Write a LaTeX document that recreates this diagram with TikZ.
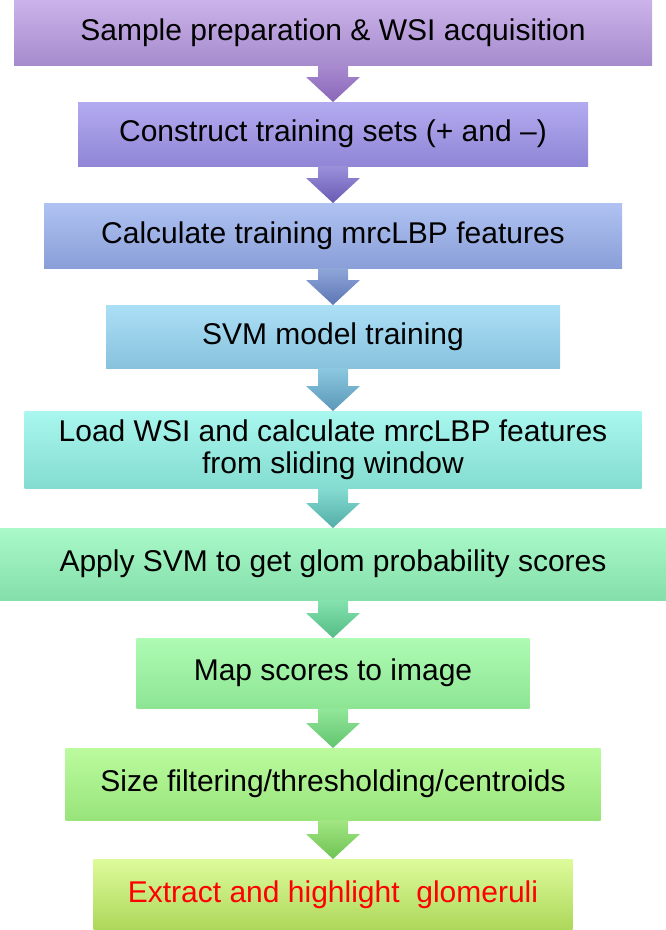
\documentclass[tikz,border=0pt]{standalone}
\usepackage{fontspec}
\setmainfont{Liberation Sans}
\usetikzlibrary{calc}

% box shades, top and bottom
\definecolor{stAt}{HTML}{CBB3EA}\definecolor{stAb}{HTML}{A68BCD}
\definecolor{stBt}{HTML}{B3ABF0}\definecolor{stBb}{HTML}{8F86D6}
\definecolor{stCt}{HTML}{AFC2F2}\definecolor{stCb}{HTML}{8A9FD8}
\definecolor{stDt}{HTML}{ABDFF6}\definecolor{stDb}{HTML}{88C2DD}
\definecolor{stEt}{HTML}{A9F7EF}\definecolor{stEb}{HTML}{84DCD0}
\definecolor{stFt}{HTML}{AAF9C9}\definecolor{stFb}{HTML}{84DFAA}
\definecolor{stGt}{HTML}{AEFBB4}\definecolor{stGb}{HTML}{8DE593}
\definecolor{stHt}{HTML}{BBFB9E}\definecolor{stHb}{HTML}{98E47B}
\definecolor{stIt}{HTML}{DDFB9B}\definecolor{stIb}{HTML}{ADD75A}
% arrow shades
\definecolor{arAt}{HTML}{A88BD0}\definecolor{arAb}{HTML}{8A66B8}
\definecolor{arBt}{HTML}{9A90DA}\definecolor{arBb}{HTML}{6A5AB4}
\definecolor{arCt}{HTML}{8FA6D8}\definecolor{arCb}{HTML}{5C76B6}
\definecolor{arDt}{HTML}{8CC8E0}\definecolor{arDb}{HTML}{5B98B8}
\definecolor{arEt}{HTML}{84DCD2}\definecolor{arEb}{HTML}{54ADA6}
\definecolor{arFt}{HTML}{84E2AE}\definecolor{arFb}{HTML}{55BC86}
\definecolor{arGt}{HTML}{92E79A}\definecolor{arGb}{HTML}{62C46E}
\definecolor{arHt}{HTML}{A2E684}\definecolor{arHb}{HTML}{6EC352}

\begin{document}
\begin{tikzpicture}[x=1pt,y=-1pt,
    stage/.style={rectangle, inner sep=0pt, outer sep=0pt,
      font=\fontsize{30}{32}\selectfont, align=center}]
  \useasboundingbox (0,0) rectangle (666,930);

  \node[stage, minimum width=638pt, minimum height=65pt, top color=stAt, bottom color=stAb] (s1) at (333,32.5) {Sample preparation \& WSI acquisition};
  \node[stage, minimum width=510pt, minimum height=64pt, top color=stBt, bottom color=stBb] (s2) at (333,134) {Construct training sets (+ and --)};
  \node[stage, minimum width=578pt, minimum height=65pt, top color=stCt, bottom color=stCb] (s3) at (333,235.5) {Calculate training mrcLBP features};
  \node[stage, minimum width=454pt, minimum height=63pt, top color=stDt, bottom color=stDb] (s4) at (333,336.5) {SVM model training};
  \node[stage, minimum width=617pt, minimum height=77pt, top color=stEt, bottom color=stEb] (s5) at (333,449.5) {Load WSI and calculate mrcLBP features\\from sliding window};
  \node[stage, minimum width=666pt, minimum height=72pt, top color=stFt, bottom color=stFb] (s6) at (333,564) {Apply SVM to get glom probability scores};
  \node[stage, minimum width=393pt, minimum height=70pt, top color=stGt, bottom color=stGb] (s7) at (333,673) {Map scores to image};
  \node[stage, minimum width=535pt, minimum height=72pt, top color=stHt, bottom color=stHb] (s8) at (333,784) {Size filtering/thresholding/centroids};
  \node[stage, minimum width=479pt, minimum height=71pt, top color=stIt, bottom color=stIb, text=red] (s9) at (333,894.5) {Extract and highlight\ \ glomeruli};

  % block arrows between the stages
  \foreach \a/\b/\c in {s1/s2/A, s2/s3/B, s3/s4/C, s4/s5/D, s5/s6/E, s6/s7/F, s7/s8/G, s8/s9/H}
    \shade[top color=ar\c t, bottom color=ar\c b]
      ($(\a.south)+(-15,0)$) -- ($(\b.north)+(-15,-25)$) -- ($(\b.north)+(-27,-25)$)
      -- (\b.north) -- ($(\b.north)+(27,-25)$) -- ($(\b.north)+(15,-25)$)
      -- ($(\a.south)+(15,0)$) -- cycle;
\end{tikzpicture}
\end{document}
